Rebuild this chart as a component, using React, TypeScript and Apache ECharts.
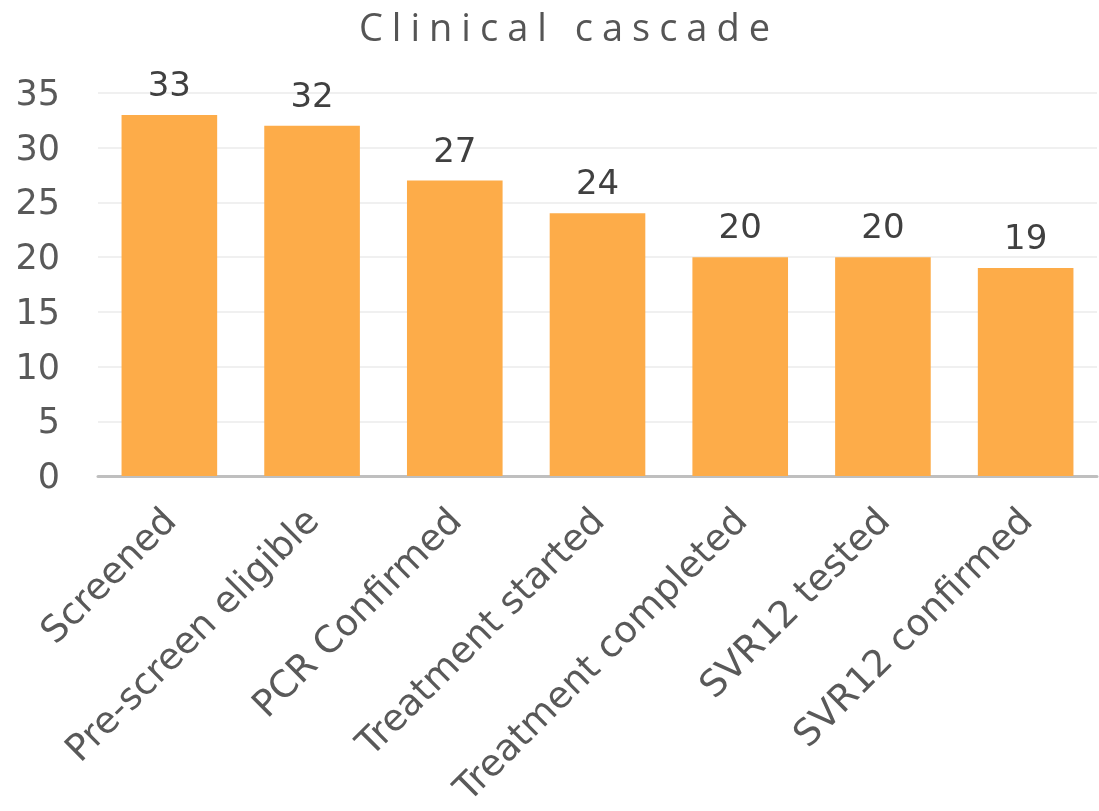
import React, { useEffect, useRef } from "react";
import * as echarts from "echarts";

const categories = [
  "Screened",
  "Pre-screen eligible",
  "PCR Confirmed",
  "Treatment started",
  "Treatment completed",
  "SVR12 tested",
  "SVR12 confirmed",
];
const values = [33, 32, 27, 24, 20, 20, 19];
const yTicks = [0, 5, 10, 15, 20, 25, 30, 35];
const TITLE = "Clinical cascade";

export default function App() {
  const ref = useRef<HTMLDivElement>(null);
  useEffect(() => {
    if (!ref.current) return;
    const chart = echarts.init(ref.current, undefined, { renderer: "svg" });
    chart.setOption({
      animation: false,
      title: {
        text: TITLE,
        left: 564,
        textAlign: "center",
        top: 2,
        textStyle: {
          fontFamily: "Open Sans",
          fontSize: 38,
          fontWeight: "normal",
          color: "#555555",
        },
      },
      grid: {
        left: 98,
        right: 2,
        top: 93,
        bottom: 335,
        containLabel: false,
        outerBoundsMode: "none",
      },
      xAxis: {
        type: "category",
        data: categories,
        axisLine: { lineStyle: { color: "#bfbfbf", width: 3 } },
        axisTick: { show: false },
        axisLabel: {
          rotate: 45,
          interval: 0,
          margin: 38,
          fontFamily: "DejaVu Sans",
          fontSize: 37,
          color: "#595959",
        },
      },
      yAxis: {
        type: "value",
        min: yTicks[0],
        max: yTicks[yTicks.length - 1],
        interval: 5,
        axisLine: { show: false },
        axisTick: { show: false },
        splitLine: { lineStyle: { color: "#f0f0f0", width: 2 } },
        axisLabel: {
          margin: 38,
          fontFamily: "DejaVu Sans",
          fontSize: 35,
          color: "#595959",
        },
      },
      series: [
        {
          type: "bar",
          data: values,
          barWidth: "67%",
          itemStyle: { color: "#fdac49" },
          label: {
            show: true,
            position: "top",
            distance: 14,
            fontFamily: "DejaVu Sans",
            fontSize: 34,
            color: "#404040",
          },
        },
      ],
    });
    const texts = ref.current.querySelectorAll("text");
    texts.forEach((t) => {
      if (t.textContent === TITLE) {
        (t as SVGTextElement).style.letterSpacing = "9px";
      }
    });
    return () => chart.dispose();
  }, []);
  return (
    <div
      ref={ref}
      style={{ position: "fixed", left: 0, top: 0, width: 1099, height: 811 }}
    />
  );
}
